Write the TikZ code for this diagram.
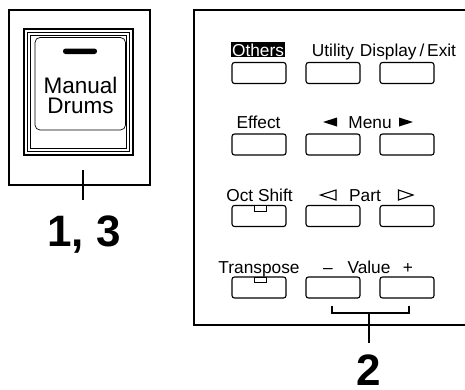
\documentclass[tikz,border=0pt]{standalone}
\usepackage{fontspec}
\setmainfont{Liberation Sans}
\usepackage{tikz}
\usetikzlibrary{positioning}
\tikzset{
  panelline/.style={line width=1.4pt, line cap=rect},
  btn/.style={draw, line width=1.1pt, rounded corners=2.5pt, minimum width=54pt,
    minimum height=21pt, inner sep=0pt},
  lbl/.style={font=\fontsize{17.3}{19}\selectfont, inner sep=0pt, anchor=base},
  bigtxt/.style={font=\fontsize{44}{46}\selectfont\bfseries, inner sep=0pt, anchor=base},
  ledbar/.style={draw, line width=0.9pt, fill=white},
}
\begin{document}
\begin{tikzpicture}[x=1pt, y=-1pt]
  \useasboundingbox (0,0) rectangle (465,389);

  % Manual Drums button
  \draw[panelline] (9,10) rectangle (150,185);
  \draw[line width=1.8pt] (24,29) rectangle (133,155);
  \draw[line width=0.6pt] (27.5,32.5) rectangle (129.5,151.5);
  \draw[line width=0.6pt] (30.5,35.5) rectangle (126.5,148.5);
  \draw[line width=0.7pt, rounded corners=5pt] (35,37.5) rectangle (125.5,130);
  \fill[rounded corners=2.6pt] (63,48.5) rectangle (97,54);
  \node[lbl, font=\fontsize{22.5}{24}\selectfont] (manual) at (80.5,93) {Manual};
  \node[lbl, font=\fontsize{22.5}{24}\selectfont] (drums) at (80.5,113.5) {Drums};
  \coordinate (tickA) at (83,170);
  \coordinate (tickB) at (83,200);
  \draw[line width=1.2pt] (tickA) -- (tickB);
  \node[bigtxt] (steps13) at (84,246.5) {1, 3};

  % panel
  \draw[panelline] (465,10) -- (194,10) -- (194,325) -- (465,325);

  % row 1
  \node[btn] (others) at (259,73) {};
  \node[btn] (utility) at (333,73) {};
  \node[btn] (display) at (407,73) {};
  \node[lbl, fill=black, text=white, inner sep=1pt] (othersL) at (258,56) {Others};
  \node[lbl] (utilityL) at (333,56) {Utility};
  \node[lbl] (displayL) at (408,56) {Display\,/\,Exit};

  % row 2
  \node[btn] (effect) at (259,144.5) {};
  \node[btn] (menuL) at (333,144.5) {};
  \node[btn] (menuR) at (407,144.5) {};
  \node[lbl] (effectL) at (258.5,128) {Effect};
  \node[lbl] (menuT) at (370,128) {Menu};
  \fill (323,122) -- (337,117.5) -- (337,126.5) -- cycle;
  \fill (413,122) -- (399,117.5) -- (399,126.5) -- cycle;

  % row 3
  \node[btn] (octshift) at (259,216) {};
  \node[btn] (partL) at (333,216) {};
  \node[btn] (partR) at (407,216) {};
  \draw[ledbar] (254,205.5) rectangle (266,211);
  \node[lbl] (octshiftL) at (259.5,201) {Oct Shift};
  \node[lbl] (partT) at (365,201) {Part};
  \draw[line width=1.1pt, line join=miter] (320.5,195) -- (336,190) -- (336,200) -- cycle;
  \draw[line width=1.1pt, line join=miter] (413,195) -- (398.5,190) -- (398.5,200) -- cycle;

  % row 4
  \node[btn] (transpose) at (259,287.5) {};
  \node[btn] (valueDn) at (333,287.5) {};
  \node[btn] (valueUp) at (407,287.5) {};
  \draw[ledbar] (254,277) rectangle (266,282.5);
  \node[lbl] (transposeL) at (259,273) {Transpose};
  \node[lbl] (valueT) at (369,273) {Value};
  \node[lbl] (minusL) at (328,273) {--};
  \node[lbl] (plusL) at (408,273) {+};

  % bracket
  \coordinate (brA) at (332,305.5);
  \coordinate (brB) at (409,305.5);
  \coordinate (brMid) at (369,313);
  \coordinate (brEnd) at (369,343);
  \draw[line width=1.2pt] (brA) |- (brMid) -| (brB);
  \draw[line width=1.2pt] (brMid) -- (brEnd);
  \node[bigtxt] (step2) at (368.5,385) {2};
\end{tikzpicture}
\end{document}
